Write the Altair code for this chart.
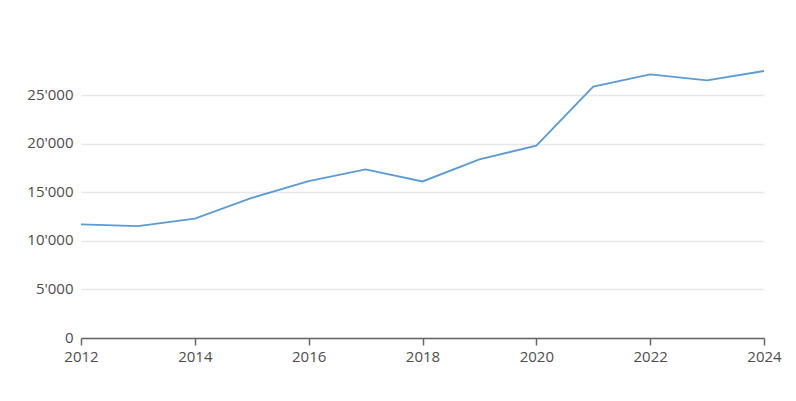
import altair as alt
import pandas as pd

years = [2012, 2013, 2014, 2015, 2016, 2017, 2018, 2019, 2020, 2021, 2022, 2023, 2024]
values = [11700, 11530, 12290, 14430, 16170, 17370, 16130, 18400, 19820, 25900, 27170, 26550, 27510]
x_ticks = [2012, 2014, 2016, 2018, 2020, 2022, 2024]
y_ticks = [0, 5000, 10000, 15000, 20000, 25000]

df = pd.DataFrame({"year": years, "value": values})

FONT = "Open Sans"
LABEL_COLOR = "#4d4d4d"

chart = alt.Chart(df).mark_line(color="#5b9bd5", strokeWidth=1.8).encode(
    x=alt.X(
        "year:Q",
        scale=alt.Scale(domain=[2012, 2024], nice=False, zero=False),
        axis=alt.Axis(
            values=x_ticks, format="d", title=None, grid=False,
            domainColor="#666666", domainWidth=1.5,
            tickColor="#666666", tickWidth=1.5, tickSize=7,
            labelPadding=4, labelFont=FONT, labelFontSize=15,
            labelColor=LABEL_COLOR, labelFlush=False,
        ),
    ),
    y=alt.Y(
        "value:Q",
        scale=alt.Scale(domain=[0, max(values)], nice=False),
        axis=alt.Axis(
            values=y_ticks, title=None, domain=False, ticks=False, tickSize=0,
            labelPadding=8, labelFont=FONT, labelFontSize=15,
            labelColor=LABEL_COLOR, labelBaseline="middle", labelOffset=-1,
            labelExpr="replace(format(datum.value, ','), ',', \"'\")",
            grid=True, gridColor="#e6e8ec", gridWidth=1.5,
        ),
    ),
).properties(
    width=683,
    height=267,
    autosize=alt.AutoSizeParams(type="none"),
    padding={"left": 73, "top": 63, "right": 24, "bottom": 55},
    background="white",
).configure_view(stroke=None)

chart.save("out.html", embed_options={"renderer": "svg", "actions": False})
